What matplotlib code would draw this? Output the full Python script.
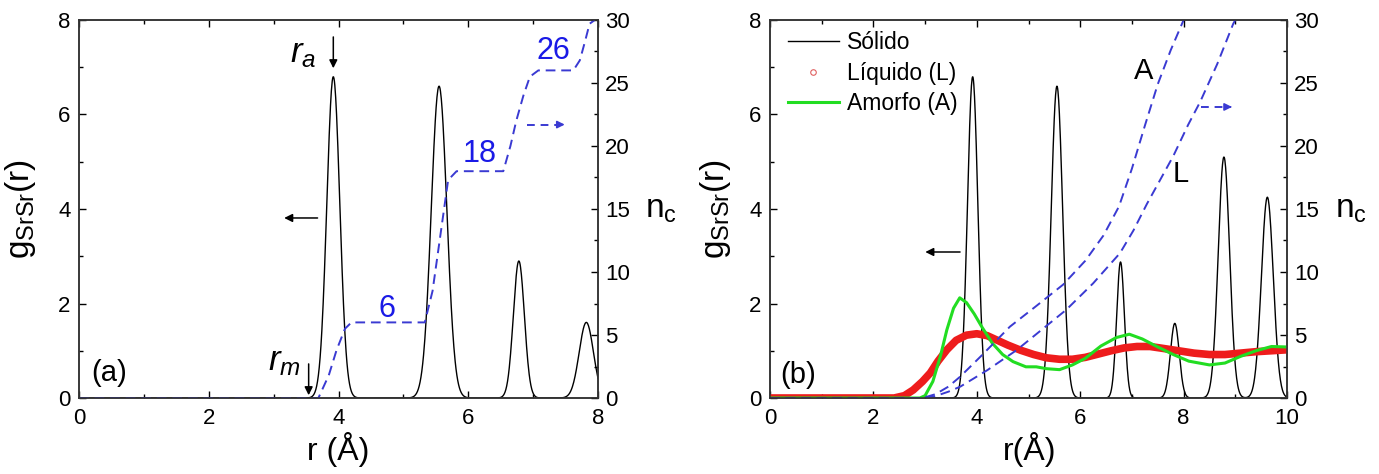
import numpy as np
import matplotlib
matplotlib.use("Agg")
import matplotlib.pyplot as plt
from matplotlib.ticker import MultipleLocator
from matplotlib.lines import Line2D

plt.rcParams['font.family'] = ['Liberation Sans', 'DejaVu Sans']
plt.rcParams['mathtext.fontset'] = 'custom'
plt.rcParams['mathtext.rm'] = 'Liberation Sans'
plt.rcParams['mathtext.it'] = 'Liberation Sans:italic'

# ---- panel (a): solid g(r) peaks (centre, height, width) ----
peak_r_a = [3.92, 5.55, 6.78, 7.82]
peak_h_a = [6.8, 6.6, 2.9, 1.6]
peak_w_a = [0.10, 0.12, 0.085, 0.11]

# panel (a): coordination number n_c (staircase)
nc_r_a = [0, 3.69, 3.85, 3.97, 4.1, 4.2, 5.33, 5.45, 5.6, 5.69, 5.82, 6.0,
          6.54, 6.65, 6.74, 6.85, 6.95, 7.08, 7.3, 7.62, 7.72, 7.8, 7.87, 7.95]
nc_a = [0, 0, 1.8, 3.8, 5.5, 6.0, 6.0, 8.5, 14.0, 17.3, 18.0, 18.0,
        18.0, 20.0, 22.0, 24.0, 25.5, 26.0, 26.0, 26.0, 26.8, 28.3, 29.7, 30.0]
step_labels = ['6', '18', '26']
step_x = [4.74, 6.18, 7.31]
step_y = [7.1, 19.4, 27.5]

# ---- panel (b) ----
peak_r_b = [3.92, 5.55, 6.78, 7.83, 8.78, 9.62]
peak_h_b = [6.8, 6.6, 2.88, 1.58, 5.1, 4.25]
peak_w_b = [0.10, 0.11, 0.075, 0.085, 0.11, 0.115]

liq_r = [0, 2.4, 2.6, 2.77, 2.95, 3.1, 3.25, 3.42, 3.6, 3.8, 4.0, 4.2, 4.4, 4.6,
         4.85, 5.1, 5.35, 5.6, 5.85, 6.1, 6.35, 6.6, 6.85, 7.1, 7.35, 7.6, 7.9,
         8.2, 8.5, 8.8, 9.1, 9.4, 9.7, 10.0]
liq_g = [0, 0, 0.05, 0.17, 0.35, 0.53, 0.78, 1.02, 1.22, 1.33, 1.36, 1.32, 1.22, 1.12,
         1.01, 0.92, 0.85, 0.82, 0.82, 0.86, 0.93, 1.0, 1.06, 1.09, 1.09, 1.05, 1.0,
         0.95, 0.92, 0.92, 0.95, 0.98, 1.0, 1.02]

am_r = [0, 2.9, 3.0, 3.15, 3.3, 3.42, 3.55, 3.67, 3.8, 3.95, 4.1, 4.3, 4.5, 4.7,
        4.95, 5.15, 5.35, 5.6, 5.85, 6.1, 6.4, 6.7, 6.95, 7.2, 7.5, 7.8, 8.1,
        8.5, 8.8, 9.1, 9.4, 9.7, 10.0]
am_g = [0, 0, 0.05, 0.35, 0.9, 1.44, 1.9, 2.12, 2.02, 1.78, 1.5, 1.16, 0.92, 0.77,
        0.66, 0.66, 0.62, 0.6, 0.7, 0.84, 1.1, 1.28, 1.35, 1.25, 1.08, 0.92, 0.78,
        0.70, 0.74, 0.88, 1.0, 1.09, 1.08]

ncA_r = [0, 2.95, 3.2, 3.45, 3.68, 4.1, 4.64, 5.15, 5.67, 6.1, 6.45, 6.75, 7.0,
         7.25, 7.5, 7.75, 8.0]
ncA = [0, 0, 0.3, 0.9, 1.7, 3.4, 5.66, 7.3, 9.0, 10.9, 12.9, 15.2, 18.2,
       21.6, 24.9, 27.6, 30.0]
ncL_r = [0, 2.95, 3.2, 3.45, 3.68, 4.2, 4.77, 5.25, 5.73, 6.25, 6.77, 7.03, 7.29,
         7.8, 8.09, 8.32, 8.65, 8.96, 9.0]
ncL = [0, 0, 0.15, 0.5, 0.9, 2.2, 3.8, 5.4, 7.0, 9.1, 11.5, 13.3, 15.4,
       19.2, 21.7, 23.5, 26.5, 29.7, 30.0]

BLUE = '#3a3ad2'
BLUE_TXT = '#1a1ae6'


def peaks(r, centres, heights, widths):
    g = np.zeros_like(r)
    for c, h, w in zip(centres, heights, widths):
        g += h * np.exp(-(r - c) ** 2 / (2 * w ** 2))
    return g


def style(ax, ax2, xmax):
    ax.set_xlim(0, xmax)
    ax.set_ylim(0, 8)
    ax2.set_ylim(0, 30)
    ax.xaxis.set_major_locator(MultipleLocator(2))
    ax.xaxis.set_minor_locator(MultipleLocator(1))
    ax.yaxis.set_major_locator(MultipleLocator(2))
    ax.yaxis.set_minor_locator(MultipleLocator(1))
    ax2.yaxis.set_major_locator(MultipleLocator(5))
    ax2.yaxis.set_minor_locator(MultipleLocator(2.5))
    ax.tick_params(which='both', direction='in', top=True, labelsize=16)
    ax.tick_params(axis='x', which='major', pad=7)
    ax.tick_params(axis='y', which='major', pad=6)
    ax.tick_params(which='major', length=5, width=1)
    ax.tick_params(which='minor', length=3, width=1)
    ax2.tick_params(which='both', direction='in', labelsize=16, pad=5)
    ax2.tick_params(which='major', length=5, width=1)
    ax2.tick_params(which='minor', length=3, width=1)
    for a in (ax, ax2):
        for s in a.spines.values():
            s.set_linewidth(1.1)
            s.set_color('#333333')
    ax.set_ylabel(r'$\mathregular{g_{SrSr}(r)}$', fontsize=24)
    ax2.set_ylabel(r'$\mathregular{n_c}$', fontsize=24, rotation=0,
                   ha='left', va='center')
    ax2.yaxis.set_label_coords(1.09, 0.5)


fig = plt.figure(figsize=(13.79, 4.74), dpi=100)
axa = fig.add_axes([79 / 1379, 1 - 398 / 474, 519 / 1379, 378 / 474])
axa2 = axa.twinx()
axb = fig.add_axes([770 / 1379, 1 - 398 / 474, 517 / 1379, 378 / 474])
axb2 = axb.twinx()

# ---- panel (a) ----
ra = np.linspace(0, 8, 1200)
axa.plot(ra, peaks(ra, peak_r_a, peak_h_a, peak_w_a), color='black', lw=1.0)
axa2.plot(nc_r_a, nc_a, color=BLUE, lw=1.4, ls=(0, (5, 3)))
for lab, x, y in zip(step_labels, step_x, step_y):
    axa2.text(x, y, lab, color=BLUE_TXT, fontsize=22, ha='center', va='center')
style(axa, axa2, 8)
axa.set_xlabel('r (Å)', fontsize=23)
axa.xaxis.set_label_coords(0.5, -0.09)
axa.yaxis.set_label_coords(-0.079, 0.5)

arrow = dict(arrowstyle='-|>', color='black', lw=1.1, mutation_scale=12)
axa.annotate('', xy=(3.92, 6.92), xytext=(3.92, 7.7), arrowprops=arrow)
axa.annotate('', xy=(3.54, 0.0), xytext=(3.54, 0.78), arrowprops=arrow)
axa.annotate('', xy=(3.12, 3.81), xytext=(3.72, 3.81), arrowprops=arrow)
axa.text(3.45, 7.3, r'$r_a$', fontsize=25, ha='center', va='center')
axa.text(3.17, 0.78, r'$r_m$', fontsize=25, ha='center', va='center')
axa.text(0.46, 0.53, '(a)', fontsize=21, ha='center', va='center')
axa2.plot([6.9, 7.4], [21.7, 21.7], color=BLUE, lw=1.4, ls=(0, (4, 3)))
axa2.annotate('', xy=(7.53, 21.7), xytext=(7.38, 21.7),
              arrowprops=dict(arrowstyle='-|>', color=BLUE, lw=1.2, mutation_scale=11))

# ---- panel (b) ----
rb = np.linspace(0, 10, 1500)
axb.plot(rb, peaks(rb, peak_r_b, peak_h_b, peak_w_b), color='black', lw=1.0, zorder=2)
axb.plot(liq_r, liq_g, color='#ee1c1c', lw=5.5, solid_capstyle='butt', zorder=3)
axb.plot(am_r, am_g, color='#22dd22', lw=2.2, zorder=4)
axb2.plot(ncA_r, ncA, color=BLUE, lw=1.4, ls=(0, (5, 3)))
axb2.plot(ncL_r, ncL, color=BLUE, lw=1.4, ls=(0, (5, 3)))
style(axb, axb2, 10)
axb.set_xlabel('r(Å)', fontsize=23)
axb.xaxis.set_label_coords(0.503, -0.09)
axb.yaxis.set_label_coords(-0.071, 0.5)
axb2.yaxis.set_label_coords(1.093, 0.5)

axb.annotate('', xy=(2.95, 3.09), xytext=(3.73, 3.09), arrowprops=arrow)
axb.text(0.54, 0.49, '(b)', fontsize=21, ha='center', va='center')
axb2.text(7.22, 25.95, 'A', fontsize=21, ha='center', va='center')
axb2.text(7.95, 17.8, 'L', fontsize=21, ha='center', va='center')
axb2.plot([8.33, 8.85], [23.1, 23.1], color=BLUE, lw=1.4, ls=(0, (4, 3)))
axb2.annotate('', xy=(8.99, 23.1), xytext=(8.84, 23.1),
              arrowprops=dict(arrowstyle='-|>', color=BLUE, lw=1.2, mutation_scale=11))

handles = [Line2D([], [], color='black', lw=1.0),
           Line2D([], [], ls='none', marker='o', ms=4, mfc='none', mec='#e06060', mew=0.8),
           Line2D([], [], color='#22dd22', lw=2.2)]
labels = ['Sólido', 'Líquido (L)', 'Amorfo (A)']
axb2.legend(handles, labels, loc='upper left', bbox_to_anchor=(0.035, 0.97),
            frameon=False, fontsize=16.5, handlelength=2.2, handletextpad=0.35,
            labelspacing=0.32, borderaxespad=0, borderpad=0)

fig.savefig('out.png', dpi=100)
